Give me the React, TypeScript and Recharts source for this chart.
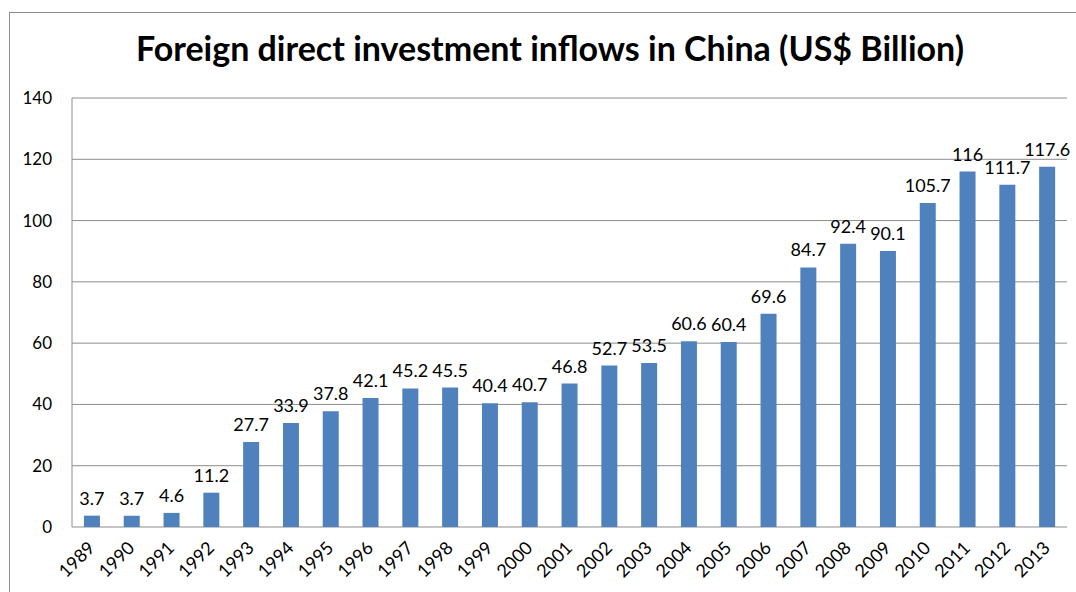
import { BarChart, Bar, XAxis, YAxis, CartesianGrid } from "recharts";

const years = [
  "1989", "1990", "1991", "1992", "1993", "1994", "1995", "1996", "1997", "1998",
  "1999", "2000", "2001", "2002", "2003", "2004", "2005", "2006", "2007", "2008",
  "2009", "2010", "2011", "2012", "2013",
];
const inflows = [
  3.7, 3.7, 4.6, 11.2, 27.7, 33.9, 37.8, 42.1, 45.2, 45.5,
  40.4, 40.7, 46.8, 52.7, 53.5, 60.6, 60.4, 69.6, 84.7, 92.4,
  90.1, 105.7, 116, 111.7, 117.6,
];
const yTicks = [0, 20, 40, 60, 80, 100, 120, 140];

const data = years.map((year, i) => ({ year, value: inflows[i] }));

const font = "Lato, 'Open Sans', sans-serif";

function YearTick({ x, y, payload }: any) {
  return (
    <text
      x={x + 4}
      y={y + 14}
      transform={`rotate(-45 ${x + 4} ${y + 14})`}
      textAnchor="end"
      fontSize={18}
      fontFamily={font}
      fill="#000"
    >
      {payload.value}
    </text>
  );
}

function ValueLabel({ x, y, width, value }: any) {
  return (
    <text
      x={x + width / 2}
      y={y - 11}
      textAnchor="middle"
      fontSize={18}
      fontFamily={font}
      fill="#000"
    >
      {value}
    </text>
  );
}

export default function App() {
  return (
    <div style={{ position: "fixed", left: 0, top: 0, width: 1076, height: 592, overflow: "hidden", background: "#fff" }}>
      <div
        style={{
          position: "absolute",
          left: 9,
          top: 12,
          width: 1200,
          height: 700,
          borderLeft: "1.5px solid #8c8c8c",
          borderTop: "1.5px solid #8c8c8c",
        }}
      />
      <div
        style={{
          position: "absolute",
          left: 0,
          top: 28,
          width: 1100,
          textAlign: "center",
          fontFamily: font,
          fontWeight: 700,
          fontSize: 34,
          lineHeight: "40px",
          color: "#000",
        }}
      >
        Foreign direct investment inflows in China (US$ Billion)
      </div>
      <div style={{ position: "absolute", left: 0, top: 0 }}>
        <BarChart
          width={1076}
          height={592}
          data={data}
          margin={{ top: 98, right: 0, left: 10, bottom: 0 }}
          barCategoryGap="30%"
        >
          {/* grid kept to the 995px plot; the extra 9px on the right only leaves room for the 117.6 label */}
          <CartesianGrid vertical={false} stroke="#8c8c8c" strokeWidth={1} x={72} width={995} />
          <XAxis
            dataKey="year"
            height={65}
            interval={0}
            padding={{ left: 0, right: 9 }}
            axisLine={false}
            tickLine={false}
            tick={<YearTick />}
          />
          <YAxis
            width={62}
            domain={[0, 140]}
            ticks={yTicks}
            axisLine={{ stroke: "#8c8c8c" }}
            tickLine={false}
            tick={{ fontSize: 17, fill: "#000", fontFamily: font }}
            tickMargin={14}
          />
          <Bar dataKey="value" fill="#4f81bd" isAnimationActive={false} label={<ValueLabel />} />
        </BarChart>
      </div>
    </div>
  );
}
